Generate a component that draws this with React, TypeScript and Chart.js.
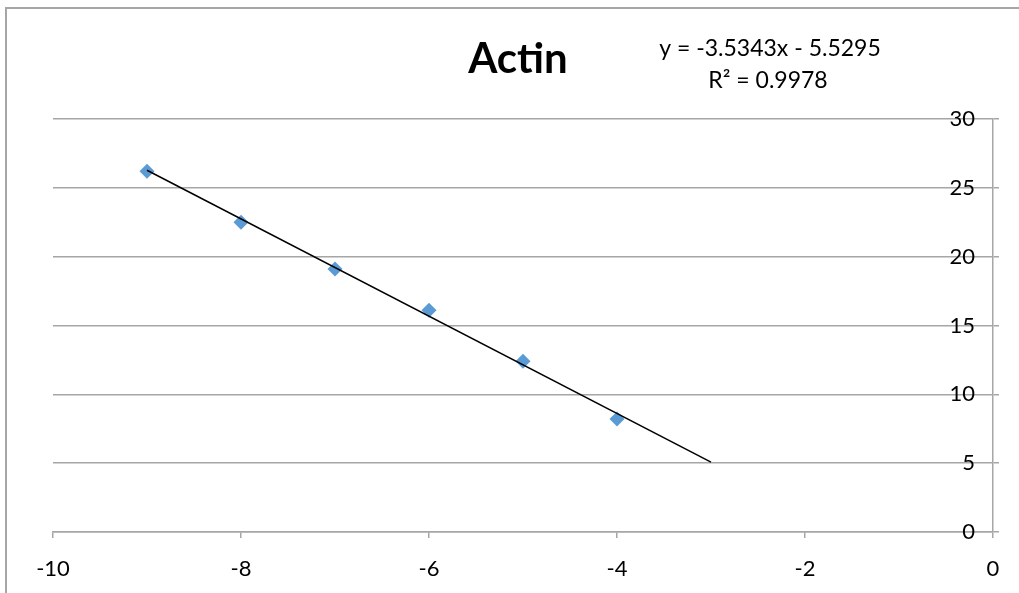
import React, { useEffect, useRef } from "react";
import { Chart, registerables } from "chart.js";

Chart.register(...registerables);

const TITLE = "Actin";
const EQUATION = "y = -3.5343x - 5.5295";
const R_SQUARED = "R² = 0.9978";

const xValues = [-9, -8, -7, -6, -5, -4];
const yValues = [26.2, 22.5, 19.1, 16.1, 12.4, 8.2];

const trendX = [-9, -3];
const trendY = [26.28, 5.07];

const X_MIN = -10;
const X_MAX = 0;
const X_STEP = 2;
const Y_MIN = 0;
const Y_MAX = 30;
const Y_STEP = 5;

const FONT = "Lato, 'DejaVu Sans', sans-serif";
const AXIS_GRAY = "#a6a6a6";

const textPlugin = {
  id: "excelText",
  afterDraw(chart: any) {
    const ctx = chart.ctx;
    ctx.save();
    ctx.fillStyle = "#000";
    ctx.textAlign = "center";
    ctx.textBaseline = "alphabetic";
    ctx.font = `bold 42px ${FONT}`;
    ctx.fillText(TITLE, 518, 73);
    ctx.font = `23px ${FONT}`;
    ctx.fillText(EQUATION, 770, 56);
    ctx.fillText(R_SQUARED, 768, 88);
    ctx.restore();
  },
};

export default function App() {
  const ref = useRef<HTMLCanvasElement | null>(null);

  useEffect(() => {
    if (!ref.current) return;
    const chart = new Chart(ref.current, {
      type: "scatter",
      data: {
        datasets: [
          {
            type: "line",
            label: "Trend",
            data: trendX.map((x, i) => ({ x, y: trendY[i] })),
            borderColor: "#000",
            borderWidth: 1.5,
            pointRadius: 0,
            fill: false,
            order: 0,
          } as any,
          {
            label: "Actin",
            data: xValues.map((x, i) => ({ x, y: yValues[i] })),
            backgroundColor: "#5b9bd5",
            borderColor: "#5b9bd5",
            borderWidth: 0,
            pointStyle: "rectRot",
            pointRadius: 7.5,
            order: 1,
          },
        ],
      },
      options: {
        animation: false,
        responsive: false,
        devicePixelRatio: 1,
        layout: { padding: { left: 53, top: 119, right: 20, bottom: 0 } },
        plugins: {
          legend: { display: false },
          tooltip: { enabled: false },
          title: { display: false },
        },
        scales: {
          x: {
            type: "linear",
            position: "bottom",
            min: X_MIN,
            max: X_MAX,
            afterFit: (axis: any) => {
              axis.height = 61;
            },
            ticks: {
              stepSize: X_STEP,
              padding: 18,
              color: "#000",
              font: { family: FONT, size: 22 },
              maxRotation: 0,
            },
            grid: {
              drawOnChartArea: false,
              drawTicks: true,
              tickLength: 6,
              color: AXIS_GRAY,
              lineWidth: 1.5,
            },
            border: { display: true, color: AXIS_GRAY, width: 1.5 },
          },
          y: {
            type: "linear",
            position: "right",
            min: Y_MIN,
            max: Y_MAX,
            afterFit: (axis: any) => {
              axis.width = 6;
            },
            ticks: {
              stepSize: Y_STEP,
              mirror: true,
              padding: -18,
              color: "#000",
              font: { family: FONT, size: 22 },
            },
            grid: {
              drawOnChartArea: true,
              drawTicks: true,
              tickLength: 6,
              color: AXIS_GRAY,
              lineWidth: 1.5,
            },
            border: { display: true, color: AXIS_GRAY, width: 1.5 },
          },
        },
      },
      plugins: [textPlugin],
    });
    return () => chart.destroy();
  }, []);

  return (
    <div style={{ position: "fixed", left: 0, top: 0, width: 1019, height: 593, background: "#fff", overflow: "hidden" }}>
      <canvas ref={ref} width={1019} height={593} style={{ position: "absolute", left: 0, top: 0, width: 1019, height: 593 }} />
      <div
        style={{
          position: "absolute",
          left: 5,
          top: 7,
          width: 1100,
          height: 700,
          borderLeft: "2px solid #a6a6a6",
          borderTop: "2px solid #a6a6a6",
          pointerEvents: "none",
        }}
      />
    </div>
  );
}
